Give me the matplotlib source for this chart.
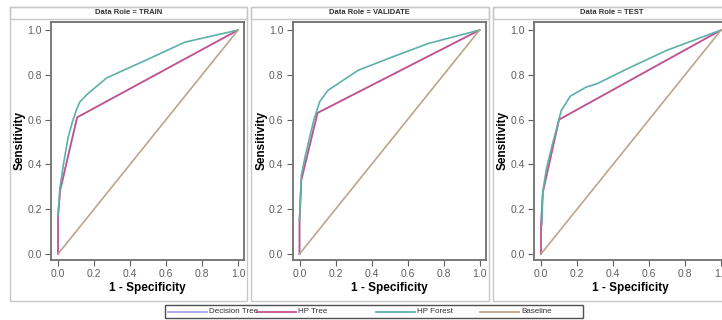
import matplotlib.pyplot as plt
from matplotlib.patches import Rectangle
from matplotlib.lines import Line2D

plt.rcParams['font.family'] = ['Liberation Sans', 'DejaVu Sans']

roles = ["TRAIN", "VALIDATE", "TEST"]
series_names = ["Decision Tree", "HP Tree", "HP Forest", "Baseline"]
colors = ["#a8a8f0", "#c8508a", "#5cb0a8", "#bca68a"]

# ROC points (1 - specificity, sensitivity) per data role
tree_fpr = {
    "TRAIN": [0.0, 0.0, 0.012, 0.106, 1.0],
    "VALIDATE": [0.0, 0.0, 0.01, 0.10, 1.0],
    "TEST": [0.0, 0.0, 0.01, 0.10, 1.0],
}
tree_tpr = {
    "TRAIN": [0.0, 0.17, 0.285, 0.61, 1.0],
    "VALIDATE": [0.0, 0.15, 0.33, 0.63, 1.0],
    "TEST": [0.0, 0.13, 0.275, 0.60, 1.0],
}
forest_fpr = {
    "TRAIN": [0.0, 0.01, 0.03, 0.056, 0.08, 0.105, 0.122, 0.163, 0.27, 0.5, 0.705, 1.0],
    "VALIDATE": [0.0, 0.01, 0.03, 0.056, 0.08, 0.112, 0.157, 0.325, 0.5, 0.715, 1.0],
    "TEST": [0.005, 0.01, 0.03, 0.06, 0.09, 0.112, 0.163, 0.25, 0.31, 0.5, 0.70, 1.0],
}
forest_tpr = {
    "TRAIN": [0.17, 0.29, 0.40, 0.52, 0.59, 0.65, 0.68, 0.714, 0.786, 0.87, 0.946, 1.0],
    "VALIDATE": [0.15, 0.35, 0.43, 0.52, 0.60, 0.68, 0.73, 0.82, 0.875, 0.94, 1.0],
    "TEST": [0.13, 0.28, 0.38, 0.48, 0.57, 0.64, 0.705, 0.745, 0.76, 0.835, 0.91, 1.0],
}
baseline = [0.0, 1.0]
ticks = [0.0, 0.2, 0.4, 0.6, 0.8, 1.0]
tick_labels = ["0.0", "0.2", "0.4", "0.6", "0.8", "1.0"]

W, H = 722, 320
fig = plt.figure(figsize=(W / 100, H / 100), dpi=100)


def px_rect(x0, y0, x1, y1):
    # pixel box (top-left origin) -> figure fraction rect
    return [x0 / W, 1 - y1 / H, (x1 - x0) / W, (y1 - y0) / H]


stride = 241.5
for i, role in enumerate(roles):
    off = i * stride
    # outer cell box and header strip
    bx = px_rect(9.5 + off, 7, 247 + off, 301)
    fig.add_artist(Rectangle((bx[0], bx[1]), bx[2], bx[3], transform=fig.transFigure,
                             fill=False, edgecolor="#c8c8c8", lw=1.0))
    hx = px_rect(9.5 + off, 7, 247 + off, 19)
    fig.add_artist(Rectangle((hx[0], hx[1]), hx[2], hx[3], transform=fig.transFigure,
                             fill=False, edgecolor="#c8c8c8", lw=1.0))
    fig.text(hx[0] + hx[2] / 2, hx[1] + hx[3] / 2, "Data Role = " + role,
             ha="center", va="center", fontsize=5.5, fontweight="bold", color="#303030")

    ax = fig.add_axes(px_rect(51 + off, 22, 244 + off, 260))
    ax.plot(tree_fpr[role], tree_tpr[role], color=colors[0], lw=1.2)
    ax.plot(tree_fpr[role], tree_tpr[role], color=colors[1], lw=1.2)
    ax.plot(forest_fpr[role], forest_tpr[role], color=colors[2], lw=1.2)
    ax.plot(baseline, baseline, color=colors[3], lw=1.2)
    ax.set_xlim(-0.039, 1.033)
    ax.set_ylim(-0.027, 1.036)
    ax.set_xticks(ticks)
    ax.set_xticklabels(tick_labels)
    ax.set_yticks(ticks)
    ax.set_yticklabels(tick_labels)
    ax.tick_params(labelsize=7.5, colors="#606060", length=4, width=0.8, pad=2.5)
    for s in ax.spines.values():
        s.set_color("#707070")
        s.set_linewidth(1.3)
    ax.set_xlabel("1 - Specificity", fontsize=8.5, fontweight="bold", labelpad=2)
    ax.set_ylabel("Sensitivity", fontsize=8.5, fontweight="bold", labelpad=1)

# legend box
lb = px_rect(165, 305, 583, 318)
fig.add_artist(Rectangle((lb[0], lb[1]), lb[2], lb[3], transform=fig.transFigure,
                         fill=False, edgecolor="#505050", lw=1.0))
ymid = 1 - 311.5 / H
line_starts = [168, 257, 376, 480]
for name, c, x0 in zip(series_names, colors, line_starts):
    fig.add_artist(Line2D([x0 / W, (x0 + 39) / W], [ymid, ymid], transform=fig.transFigure,
                          color=c, lw=1.3))
    fig.text((x0 + 41) / W, ymid, name, ha="left", va="center", fontsize=5.8, color="#303030")

fig.savefig("out.png", dpi=100)
